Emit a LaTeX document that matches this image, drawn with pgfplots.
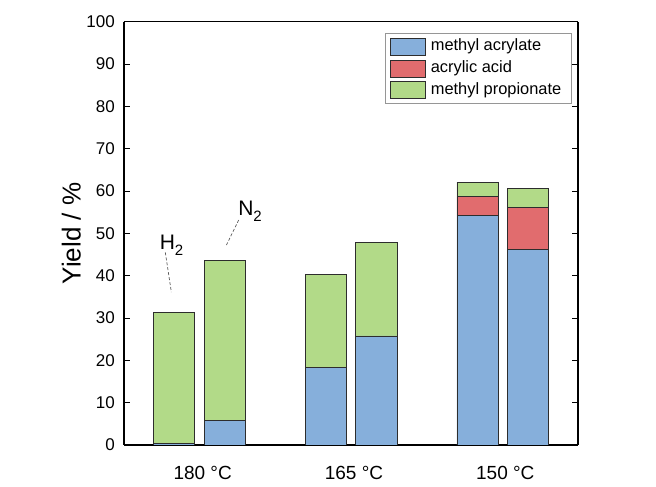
\documentclass[border=0pt]{standalone}
\usepackage{pgfplots}
\pgfplotsset{compat=1.18}
\usepackage{fontspec}
\setmainfont{Liberation Sans}
\definecolor{cBlue}{RGB}{134,175,219}
\definecolor{cRed}{RGB}{225,108,110}
\definecolor{cGreen}{RGB}{178,218,136}
\definecolor{cEdge}{RGB}{45,45,45}
\begin{document}
\begin{tikzpicture}[x=1pt,y=1pt]
\useasboundingbox (-124,-42) rectangle (532,445);
\begin{axis}[
  at={(0,0)}, anchor=south west,
  scale only axis, width=454pt, height=423.3pt,
  ybar stacked, bar width=0.2715,
  xmin=0.5, xmax=3.5, ymin=0, ymax=100,
  xtick={1,2,3}, xticklabels={180 °C,165 °C,150 °C},
  x tick style={draw=none},
  ytick={0,10,...,100},
  ytick pos=both, yticklabel pos=left, tick align=inside,
  major tick length=6pt,
  y tick style={line width=1pt, black},
  separate axis lines,
  axis line style={line width=1.2pt, black},
  /pgf/number format/assume math mode=true,
  yticklabel style={font=\fontsize{17}{17}\selectfont, inner sep=0pt, anchor=east, xshift=-9pt},
  xticklabel style={font=\fontsize{19}{19}\selectfont, inner sep=0pt, anchor=north, yshift=-21.5pt, xshift=3pt},
  ylabel={Yield / \%},
  ylabel style={font=\fontsize{26}{26}\selectfont, at={(axis description cs:-0.116,0.5)}, anchor=center},
  legend style={at={(axis description cs:0.986,0.9726)}, anchor=north east,
    draw={rgb,255:red,150;green,150;blue,150}, line width=0.8pt,
    font=\fontsize{16.4}{19}\selectfont, inner xsep=4.5pt, inner ysep=3.5pt, row sep=2.8pt,
    nodes={inner xsep=5.5pt, inner ysep=1.5pt, text height=12pt, text depth=4pt}},
  legend cell align=left,
  area legend,
  legend image code/.code={\draw[#1, line width=0.8pt] (0pt,-8.5pt) rectangle (35pt,8.5pt);},
  every axis plot/.append style={draw=cEdge, line width=0.9pt},
]
\addplot[fill=cBlue, draw=cEdge] coordinates {(0.833,0.4) (1.167,5.7) (1.835,18.35) (2.168,25.75) (2.836,54.3) (3.169,46.2)};
\addlegendentry{methyl acrylate}
\addplot[fill=cRed, draw=cEdge] coordinates {(0.833,0) (1.167,0) (1.835,0) (2.168,0) (2.836,4.3) (3.169,9.95)};
\addlegendentry{acrylic acid}
\addplot[fill=cGreen, draw=cEdge] coordinates {(0.833,30.95) (1.167,37.8) (1.835,21.95) (2.168,22.15) (2.836,3.5) (3.169,4.4)};
\addlegendentry{methyl propionate}
\node[anchor=base west, font=\fontsize{21}{21}\selectfont, inner sep=0pt] at (axis cs:0.735,46.07) {H\raisebox{-6pt}{\fontsize{15}{15}\selectfont 2}};
\node[anchor=base west, font=\fontsize{21}{21}\selectfont, inner sep=0pt] at (axis cs:1.254,54.3) {N\raisebox{-6pt}{\fontsize{15}{15}\selectfont 2}};
\draw[dash pattern=on 3pt off 2pt, black!65, line width=0.7pt] (axis cs:0.773,45.5) -- (axis cs:0.813,36.1);
\draw[dash pattern=on 3pt off 2pt, black!65, line width=0.7pt] (axis cs:1.258,53.15) -- (axis cs:1.177,47.25);
\end{axis}
\end{tikzpicture}
\end{document}
